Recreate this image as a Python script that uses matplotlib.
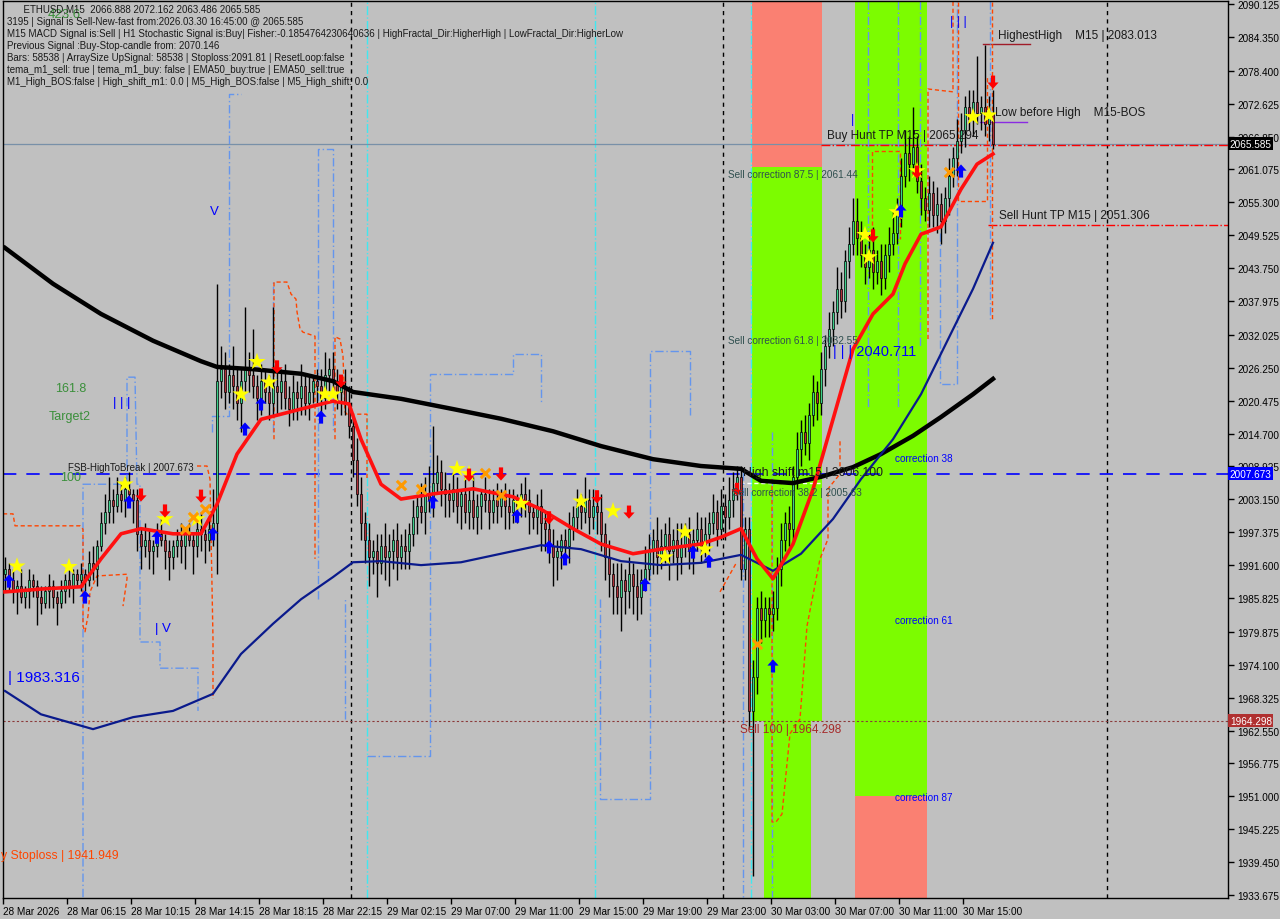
import matplotlib
matplotlib.use('Agg')
import matplotlib.pyplot as plt
from matplotlib.path import Path
from matplotlib.patches import Rectangle
import matplotlib.transforms as mtransforms

plt.rcParams['font.family'] = ['Liberation Sans', 'DejaVu Sans']

# --- candles (M15 bars), open = previous close ---
first_open = 1990.0
closes = [
    1991, 1989, 1987, 1988, 1986, 1987, 1989, 1988, 1986, 1985, 1987, 1988, 1986, 1985, 1987, 1989, 1988, 1990, 1989, 1990,
    1989, 1992, 1991, 1995, 1999, 2001, 2003, 2002, 2004, 2003, 2005, 2004, 2003,
    1997, 1995, 1996, 1994, 1995, 1997, 1996, 1994, 1993, 1995, 1996, 1995, 1997, 1996, 1995, 1998, 1997, 1996, 1998, 1999,
    2024,
    2026, 2022, 2025, 2023, 2020, 2024, 2026, 2025, 2023, 2021, 2024, 2022, 2020, 2023, 2022, 2024, 2021, 2019, 2022, 2021,
    2023, 2020, 2022, 2024, 2023, 2021, 2025, 2026, 2024, 2022, 2023, 2020,
    2016, 2010, 2004, 1999, 1996, 1993, 1994, 1992, 1995, 1993, 1994, 1996, 1993, 1995, 1994,
    1997, 2000, 2002, 2001, 2004, 2003, 2006, 2008, 2005, 2004,
    2003, 2005, 2002, 2004, 2001, 2003, 2000, 2002, 2004, 2003, 2001, 2003, 2002, 2004, 2002, 2001, 2003, 2002, 2004, 2003,
    2001, 2000, 2002, 1999, 1998,
    1995, 1993, 1994, 1996, 1995, 1998, 2000,
    2002, 2001, 2003, 2000, 2002, 2001, 1997, 1993,
    1990, 1988, 1986, 1989, 1987, 1990, 1988, 1986, 1989, 1991,
    1994, 1996, 1993, 1995, 1997, 1994, 1996, 1993, 1995, 1997, 1994, 1996, 1998, 1995, 1997,
    1999, 2001, 1998, 2002, 2000, 2003, 2005, 2007,
    1991, 1998, 1966, 1972, 1984, 1982, 1984, 1983, 1984, 1991, 1996, 1999, 1998, 2007, 2012,
    2015, 2013, 2018, 2022, 2020, 2026, 2030,
    2033, 2036, 2040, 2038, 2045, 2048, 2052,
    2049, 2046, 2044, 2047, 2043, 2045, 2042, 2046, 2048, 2050,
    2054, 2060, 2064, 2062, 2065,
    2059, 2056, 2054, 2057, 2053, 2055, 2052,
    2056, 2060, 2063, 2066, 2068, 2072,
    2070, 2073, 2071, 2072, 2069, 2071,
    2065.585,
]
up_wick = [
    2, 1, 2, 1, 3, 1, 2, 1, 1, 2, 1, 2, 1, 1, 2, 1, 2, 1, 1, 2,
    1, 2, 3, 1, 2, 3, 4, 2, 3, 2, 2, 3, 1,
    2, 1, 3, 2, 1, 2, 3, 1, 2, 1, 2, 3, 1, 2, 1, 2, 3, 1, 2, 6,
    17,
    4, 3, 2, 5, 3, 2, 11, 3, 8, 2, 3, 2, 3, 14, 3, 2, 3, 2, 3, 2,
    4, 2, 3, 1, 2, 3, 4, 2, 3, 2, 1, 3,
    3, 2, 4, 3, 2, 3, 2, 3, 2, 4, 3, 2, 3, 2, 3,
    2, 3, 2, 4, 3, 5, 10, 3, 2, 3,
    2, 3, 2, 1, 3, 2, 4, 2, 1, 3, 2, 2, 3, 1, 2, 3, 2, 1, 2, 3,
    2, 1, 2, 3, 2,
    2, 3, 2, 1, 2, 3, 2,
    3, 2, 4, 2, 3, 2, 3, 2,
    3, 2, 4, 3, 2, 3, 2, 3, 2, 4,
    3, 2, 4, 3, 2, 3, 2, 3, 4, 2, 3, 2, 3, 2, 3,
    2, 3, 2, 3, 2, 4, 3, 2,
    2, 2, 2, 3, 2, 3, 2, 2, 3, 2, 3, 2, 3, 2, 3,
    2, 3, 2, 3, 2, 3, 2,
    3, 2, 4, 3, 2, 3, 4,
    4, 3, 2, 3, 4, 2, 3, 2, 3, 4,
    2, 3, 4, 3, 7,
    2, 3, 2, 3, 2, 3, 2,
    2, 3, 2, 4, 3, 2,
    3, 2, 8, 2, 11, 3,
    4,
]
down_wick = [
    3, 2, 2, 4, 1, 2, 3, 2, 5, 2, 1, 3, 2, 4, 1, 2, 2, 3, 1, 2,
    2, 1, 2, 3, 1, 2, 2, 3, 1, 2, 3, 2, 4,
    3, 4, 2, 3, 4, 2, 1, 3, 4, 2, 2, 3, 4, 1, 5, 2, 3, 4, 2, 3,
    9,
    3, 3, 2, 4, 3, 5, 2, 3, 2, 4, 3, 2, 3, 2, 4, 3, 2, 3, 2, 4,
    3, 2, 3, 2, 3, 4, 2, 3, 2, 3, 4, 2,
    2, 3, 2, 3, 4, 5, 3, 6, 2, 4, 5, 3, 4, 2, 3,
    3, 2, 3, 2, 4, 2, 3, 2, 3, 4,
    3, 2, 3, 4, 2, 3, 2, 3, 4, 2, 3, 2, 3, 2, 4, 3, 2, 3, 2, 3,
    4, 2, 3, 5, 4,
    3, 5, 4, 3, 2, 3, 2,
    2, 3, 2, 3, 2, 4, 3, 4,
    4, 5, 3, 6, 4, 3, 5, 4, 3, 2,
    2, 4, 3, 2, 3, 5, 2, 4, 3, 2, 3, 4, 2, 3, 2,
    3, 2, 3, 2, 4, 2, 3, 2,
    2, 2, 3, 29, 3, 4, 3, 4, 3, 2, 3, 2, 3, 2, 2,
    3, 2, 3, 2, 3, 2, 3,
    2, 3, 2, 3, 2, 3, 2,
    3, 2, 3, 2, 3, 2, 3, 2, 3, 2,
    2, 3, 2, 3, 2,
    2, 3, 2, 3, 2, 3, 4,
    2, 3, 2, 3, 2, 3,
    2, 3, 2, 3, 2, 3,
    1,
]

# --- moving averages (bar index, price) ---
ma_black_bar = [0, 12, 24, 37, 49, 53, 62, 74, 82, 87, 99, 112, 124, 137, 149, 162, 174, 184, 189, 197, 204, 212, 219, 227, 234, 242, 247]
ma_black = [2047.3, 2041.0, 2035.7, 2031.0, 2027.4, 2026.4, 2026.0, 2025.2, 2023.9, 2022.0, 2020.8, 2019.0, 2017.3, 2015.1,
            2012.5, 2010.2, 2009.0, 2008.5, 2006.4, 2006.0, 2007.1, 2008.8, 2011.1, 2014.3, 2017.6, 2021.6, 2024.3]
ma_navy_bar = [0, 9, 22, 32, 42, 52, 59, 67, 74, 82, 87, 94, 104, 114, 124, 134, 144, 154, 164, 174, 184, 192, 199, 207, 214,
               222, 229, 237, 242, 247]
ma_navy = [1969.5, 1965.4, 1962.8, 1964.9, 1966.0, 1969.0, 1976.0, 1981.3, 1985.6, 1989.5, 1992.1, 1992.3, 1991.6, 1992.1,
           1993.6, 1995.1, 1994.4, 1992.3, 1991.6, 1992.0, 1993.4, 1990.6, 1993.6, 1999.7, 2006.7, 2013.7, 2021.6, 2033.0,
           2040.1, 2048.2]
ma_red_bar = [0, 9, 19, 24, 29, 34, 42, 49, 53, 58, 64, 74, 82, 86, 89, 94, 99, 107, 117, 127, 134, 142, 149, 157, 164, 174,
              179, 184, 188, 192, 197, 202, 207, 212, 217, 222, 225, 229, 234, 239, 243, 247]
ma_red = [1986.9, 1987.4, 1987.8, 1992.7, 1997.1, 1998.0, 1997.1, 1997.1, 2002.3, 2011.1, 2017.2, 2019.0, 2020.4, 2019.9,
          2013.7, 2005.8, 2003.2, 2004.1, 2005.0, 2003.6, 2001.4, 1998.0, 1995.3, 1993.6, 1994.4, 1995.3, 1996.5, 1998.0,
          1992.7, 1989.2, 1995.3, 2004.9, 2017.2, 2029.5, 2035.7, 2039.2, 2044.5, 2049.7, 2051.0, 2057.6, 2062.0, 2063.8]

# --- fractal channel lines (bar index, price) ---
blue_channel = [
    [(19.5, 1933.3), (19.5, 2005.8), (30.5, 2005.8), (30.5, 2024.6), (32.5, 2024.6), (33.0, 2005.8), (33.75, 2005.8),
     (33.75, 1978.1), (38.75, 1978.1), (38.75, 1973.5), (48.25, 1973.5), (48.25, 1966.0)],
    [(51.75, 2015.0), (51.75, 2017.8), (56.0, 2017.8), (56.0, 2074.3), (59.0, 2074.3)],
    [(67.0, 2015.0), (67.0, 2041.3)],
    [(78.25, 1985.6), (78.25, 2064.7), (82.0, 2064.7), (82.0, 2015.0)],
    [(85.0, 1964.6), (85.0, 1985.6)],
    [(90.5, 1958.1), (106.25, 1958.1), (106.25, 2025.2), (127.0, 2025.2), (127.0, 2028.7), (134.0, 2028.7), (134.0, 2020.0)],
    [(148.75, 1985.6), (148.75, 1950.5), (161.25, 1950.5), (161.25, 2029.2), (171.25, 2029.2), (171.25, 2018.0)],
    [(184.5, 2008.0), (184.5, 1933.3)],
    [(191.75, 2015.0), (191.75, 1933.3)],
    [(215.75, 2090.6), (215.75, 2019.0)],
    [(223.25, 2090.6), (223.25, 2019.0)],
    [(228.75, 2090.6), (228.75, 2030.0)],
    [(233.75, 2050.0), (233.75, 2023.4), (238.0, 2023.4), (238.0, 2090.6)],
    [(246.25, 2090.6), (246.25, 2034.8)],
]
orange_channel = [
    [(-0.5, 2000.6), (2.0, 2000.6), (2.5, 1998.5), (18.75, 1998.5), (19.5, 1997.9), (19.5, 1980.9), (20.0, 1979.9),
     (20.75, 1982.7), (21.25, 1986.9), (23.0, 1989.7), (30.5, 1990.0), (30.5, 1989.2), (29.5, 1984.4)],
    [(48.0, 2009.0), (50.5, 2009.0), (51.25, 2006.7), (52.0, 1978.6), (52.0, 1968.1)],
    [(67.25, 2013.7), (67.25, 2041.3), (70.5, 2041.3), (71.5, 2039.2), (72.75, 2038.3), (73.0, 2036.1), (73.75, 2033.1),
     (74.5, 2032.5), (77.5, 2031.8), (77.5, 1992.7)],
    [(82.5, 2013.7), (82.5, 2031.7), (83.75, 2031.3), (84.5, 2028.3), (85.0, 2018.5), (85.5, 2018.1), (90.5, 2018.1),
     (90.5, 2006.7)],
    [(178.75, 1986.9), (183.0, 1992.2)],
    [(191.75, 2006.7), (191.75, 1946.5), (192.75, 1946.5), (194.25, 1947.9), (196.25, 1962.0), (198.75, 1964.6),
     (200.5, 1980.9), (203.75, 1992.7), (205.75, 1996.2), (205.75, 2005.0), (208.75, 2007.6), (208.75, 2013.7)],
    [(216.75, 2048.9), (216.75, 2064.3), (223.75, 2064.3), (223.75, 2048.9)],
    [(230.75, 2031.3), (230.75, 2075.2), (237.0, 2074.7), (237.0, 2090.5)],
    [(238.25, 2090.5), (238.25, 2055.5), (245.5, 2055.5), (245.5, 2077.5)],
    [(246.75, 2090.5), (246.75, 2034.8)],
]

# --- signal markers (bar index, price) ---
star_bar = [3, 16, 30, 40, 48, 59, 63, 66, 80, 82, 113, 116, 129, 144, 152, 165, 170, 175, 215, 216, 223, 228, 242, 246]
star_price = [1991.4, 1991.3, 2005.8, 1999.7, 1999.7, 2021.6, 2027.3, 2023.7, 2021.6, 2021.6, 2008.5, 2007.6, 2002.4,
              2002.8, 2001.1, 1993.0, 1997.4, 1994.4, 2049.6, 2045.7, 2053.6, 2060.8, 2070.3, 2070.6]
buy_bar = [1, 20, 31, 38, 52, 60, 64, 79, 107, 128, 136, 140, 160, 172, 176, 192, 224, 239]
buy_price = [1988.8, 1986.0, 2002.7, 1996.5, 1997.1, 2015.5, 2019.9, 2017.6, 2002.7, 2000.2, 1994.8, 1992.7, 1988.2,
             1993.9, 1992.3, 1973.9, 2053.8, 2060.8]
sell_bar = [34, 40, 49, 68, 84, 116, 124, 136, 148, 156, 183, 217, 228, 247]
sell_price = [2003.9, 2001.1, 2003.7, 2026.4, 2023.9, 2007.4, 2007.6, 1999.9, 2003.6, 2000.9, 2004.9, 2049.4, 2060.6, 2076.4]
cross_bar = [45, 47, 50, 99, 104, 120, 124, 188, 236]
cross_price = [1997.9, 2000.0, 2001.5, 2005.7, 2005.0, 2007.8, 2003.9, 1977.7, 2060.6]

# --- levels ---
last_price = 2065.585
fsb_level = 2007.673
sell100_level = 1964.298
buy_hunt_tp = 2065.294
sell_hunt_tp = 2051.306
highest_high = 2083.013
low_before_high = 2069.4
high_shift = 2006.100
corr_875 = 2061.44
corr_bottom = 1951.0

# --- axes labels ---
time_labels = ['28 Mar 2026', '28 Mar 06:15', '28 Mar 10:15', '28 Mar 14:15', '28 Mar 18:15', '28 Mar 22:15',
               '29 Mar 02:15', '29 Mar 07:00', '29 Mar 11:00', '29 Mar 15:00', '29 Mar 19:00', '29 Mar 23:00',
               '30 Mar 03:00', '30 Mar 07:00', '30 Mar 11:00', '30 Mar 15:00']
price_ticks = [2090.125, 2084.350, 2078.400, 2072.625, 2066.850, 2061.075, 2055.300, 2049.525, 2043.750, 2037.975,
               2032.025, 2026.250, 2020.475, 2014.700, 2008.925, 2003.150, 1997.375, 1991.600, 1985.825, 1979.875,
               1974.100, 1968.325, 1962.550, 1956.775, 1951.000, 1945.225, 1939.450, 1933.675]

info_lines = [
    '      ETHUSD,M15  2066.888 2072.162 2063.486 2065.585',
    '3195 | Signal is Sell-New-fast from:2026.03.30 16:45:00 @ 2065.585',
    'M15 MACD Signal is:Sell | H1 Stochastic Signal is:Buy| Fisher:-0.1854764230640636 | HighFractal_Dir:HigherHigh | LowFractal_Dir:HigherLow',
    'Previous Signal :Buy-Stop-candle from: 2070.146',
    'Bars: 58538 | ArraySize UpSignal: 58538 | Stoploss:2091.81 | ResetLoop:false',
    'tema_m1_sell: true | tema_m1_buy: false | EMA50_buy:true | EMA50_sell:true',
    'M1_High_BOS:false | High_shift_m1: 0.0 | M5_High_BOS:false | M5_High_shift: 0.0',
]

BG = '#c0c0c0'
fig = plt.figure(figsize=(12.8, 9.2), dpi=100, facecolor=BG)
ax = fig.add_axes([3 / 1280, 21 / 920, 1225 / 1280, 897 / 920], facecolor=BG)
ax.set_xlim(-0.5, 305.75)
ax.set_ylim(1933.15, 2090.65)

# correction zones
ax.add_patch(Rectangle((186.75, corr_875), 17.5, 40, color='#fa8072', lw=0, zorder=0.5))
ax.add_patch(Rectangle((186.75, sell100_level), 17.5, corr_875 - sell100_level, color='#7cfc00', lw=0, zorder=0.5))
ax.add_patch(Rectangle((189.75, 1920), 11.75, sell100_level - 1920, color='#7cfc00', lw=0, zorder=0.5))
ax.add_patch(Rectangle((212.5, corr_bottom), 18, 2100 - corr_bottom, color='#7cfc00', lw=0, zorder=0.5))
ax.add_patch(Rectangle((212.5, 1920), 18, corr_bottom - 1920, color='#fa8072', lw=0, zorder=0.5))

# session separators and other vertical lines
for b in [86.5, 179.5, 275.5]:
    ax.axvline(b, color='black', lw=1, dashes=(3, 3), zorder=1)
for b in [90.5, 147.5, 186.5]:
    ax.axvline(b, color='#40e8f0', lw=1, ls='-.', zorder=1)

# fractal channels
for seg in blue_channel:
    xs, ys = zip(*seg)
    ax.plot(xs, ys, color='#6495ed', lw=1, dashes=(6, 2, 1, 2), zorder=1.3)
for seg in orange_channel:
    xs, ys = zip(*seg)
    ax.plot(xs, ys, color='#ff4500', lw=1, dashes=(3, 2), zorder=1.3)

# horizontal levels
ax.axhline(last_price, color='#7890a8', lw=0.9, zorder=1)
ax.axhline(fsb_level, color='#0000ff', lw=1.2, dashes=(8, 6), zorder=1.2)
ax.axhline(sell100_level, color='#8b3a3a', lw=0.8, dashes=(2, 2), zorder=1)
ax.plot([204, 305.75], [buy_hunt_tp, buy_hunt_tp], color='#ff0000', lw=1, ls='-.', zorder=1.1)
ax.plot([245.75, 305.75], [sell_hunt_tp, sell_hunt_tp], color='#ff0000', lw=1, ls='-.', zorder=1.1)
ax.plot([244.5, 256.25], [highest_high, highest_high], color='#a01c28', lw=1, zorder=1.1)
ax.plot([243.75, 255.5], [low_before_high, low_before_high], color='#8a2be2', lw=1, zorder=1.1)
ax.plot([182, 203.75], [high_shift, high_shift], color='white', lw=1, dashes=(3, 2), zorder=1.1)

# candles
opens = [first_open] + closes[:-1]
for i, (o, c) in enumerate(zip(opens, closes)):
    hi = max(o, c) + up_wick[i]
    lo = min(o, c) - down_wick[i]
    ax.vlines(i, lo, hi, color='black', lw=1, zorder=2)
    bull = c >= o
    ax.bar(i, max(abs(c - o), 0.25), bottom=min(o, c), width=0.65,
           color='#3ccf8a' if bull else '#b03038', edgecolor='black', lw=0.5, zorder=2.1)

# moving averages
ax.plot(ma_black_bar, ma_black, color='black', lw=3.2, zorder=3)
ax.plot(ma_navy_bar, ma_navy, color='#0a1a8c', lw=1.6, zorder=3)
ax.plot(ma_red_bar, ma_red, color='#ff1010', lw=2.6, zorder=3.1)

# markers
arrow_up = Path([(0, 1), (0.85, 0.05), (0.32, 0.05), (0.32, -1), (-0.32, -1), (-0.32, 0.05), (-0.85, 0.05), (0, 1)],
                [Path.MOVETO] + [Path.LINETO] * 6 + [Path.CLOSEPOLY])
arrow_dn = Path([(x, -y) for x, y in arrow_up.vertices], arrow_up.codes)
ax.scatter(star_bar, star_price, marker='*', s=170, color='#ffff00', edgecolors='none', zorder=4)
ax.scatter(buy_bar, buy_price, marker=arrow_up, s=90, color='#0000ff', edgecolors='none', zorder=4)
ax.scatter(sell_bar, sell_price, marker=arrow_dn, s=90, color='#ff0000', edgecolors='none', zorder=4)
ax.scatter(cross_bar, cross_price, marker='x', s=45, color='#ff9a00', linewidths=2.2, zorder=4)

# chart objects text
dark = '#1a1a1a'
ax.text(248.25, 2084.7, 'HighestHigh    M15 | 2083.013', fontsize=8.5, color=dark, va='center', zorder=5)
ax.text(247.5, 2071.2, 'Low before High    M15-BOS', fontsize=8.5, color=dark, va='center', zorder=5)
ax.text(205.5, 2067.1, 'Buy Hunt TP M15 | 2065.294', fontsize=8.5, color=dark, va='center', zorder=5)
ax.text(248.5, 2053.1, 'Sell Hunt TP M15 | 2051.306', fontsize=8.5, color=dark, va='center', zorder=5)
slate = '#2f4f4f'
ax.text(180.75, 2060.3, 'Sell correction 87.5 | 2061.44', fontsize=7.2, color=slate, va='center', zorder=5)
ax.text(180.75, 2031.1, 'Sell correction 61.8 | 2032.55', fontsize=7.2, color=slate, va='center', zorder=5)
ax.text(181.75, 2004.4, 'Sell correction 38.2 | 2005.63', fontsize=7.2, color=slate, va='center', zorder=5)
ax.text(184.5, 2007.95, 'High shift m15 | 2006.100', fontsize=8.8, color=dark, va='center', zorder=5)
ax.text(183.75, 1962.9, 'Sell 100 | 1964.298', fontsize=8.5, color='#a52a2a', va='center', zorder=5)
ax.text(207, 2029.2, '| | | 2040.711', fontsize=10.5, color='#0000ff', va='center', zorder=5)
for lab, p in [('correction 38', 2010.4), ('correction 61', 1981.96), ('correction 87', 1950.9)]:
    ax.text(222.5, p, lab, fontsize=7.2, color='#0000ff', va='center', zorder=5)
ax.text(15.75, 2008.8, 'FSB-HighToBreak | 2007.673', fontsize=7, color=dark, va='center', zorder=5)
green = '#3a8f3a'
ax.text(13.75, 2007.0, '100', fontsize=9, color=green, va='center', zorder=5)
ax.text(12.5, 2022.7, '161.8', fontsize=9, color=green, va='center', zorder=5)
ax.text(11, 2017.8, 'Target2', fontsize=9, color=green, va='center', zorder=5)
ax.text(10.75, 2088.4, '423.6', fontsize=9.5, color=green, va='center', zorder=5)
ax.text(27, 2020.2, '| | |', fontsize=9.5, color='#0000ff', va='center', zorder=5)
ax.text(37.5, 1980.6, '| V', fontsize=9.5, color='#0000ff', va='center', zorder=5)
ax.text(51.25, 2053.8, 'V', fontsize=9.5, color='#0000ff', va='center', zorder=5)
ax.text(236.25, 2087.1, '| | |', fontsize=9, color='#0000ff', va='center', zorder=5)
ax.text(211.5, 2070.0, '|', fontsize=9, color='#0000ff', va='center', zorder=5)
ax.text(0.75, 1971.95, '| 1983.316', fontsize=11, color='#0000ff', va='center', zorder=5)
ax.text(-0.9, 1940.7, 'y Stoploss | 1941.949', fontsize=8.8, color='#ff4500', va='center', zorder=5)

# info block top-left
for k, line in enumerate(info_lines):
    fig.text(7 / 1280, 1 - (10 + 12 * k) / 920, line, fontsize=7, color=dark, va='center')

# axes cosmetics
for s in ax.spines.values():
    s.set_color('black')
    s.set_linewidth(1)
ax.yaxis.tick_right()
ax.set_yticks(price_ticks)
ax.set_yticklabels([f'{p:.3f}' for p in price_ticks])
ax.set_xticks([16 * k - 0.5 for k in range(len(time_labels))])
ax.set_xticklabels(time_labels, ha='left')
ax.tick_params(axis='both', direction='out', length=4, width=1, color='black', labelsize=7.2, labelcolor='black')
ax.tick_params(axis='x', pad=2)
ax.tick_params(axis='y', pad=3)

# price boxes on the right scale
trans = mtransforms.blended_transform_factory(ax.transAxes, ax.transData)
for p, fc in [(last_price, 'black'), (fsb_level, '#0000ff'), (sell100_level, '#b03030')]:
    ax.text(1.0015, p, f'{p:.3f}', transform=trans, fontsize=7.2, color='white', va='center', ha='left',
            bbox=dict(boxstyle='square,pad=0.15', fc=fc, ec='none'), zorder=6, clip_on=False)

fig.savefig('out.png', dpi=100, facecolor=BG)
